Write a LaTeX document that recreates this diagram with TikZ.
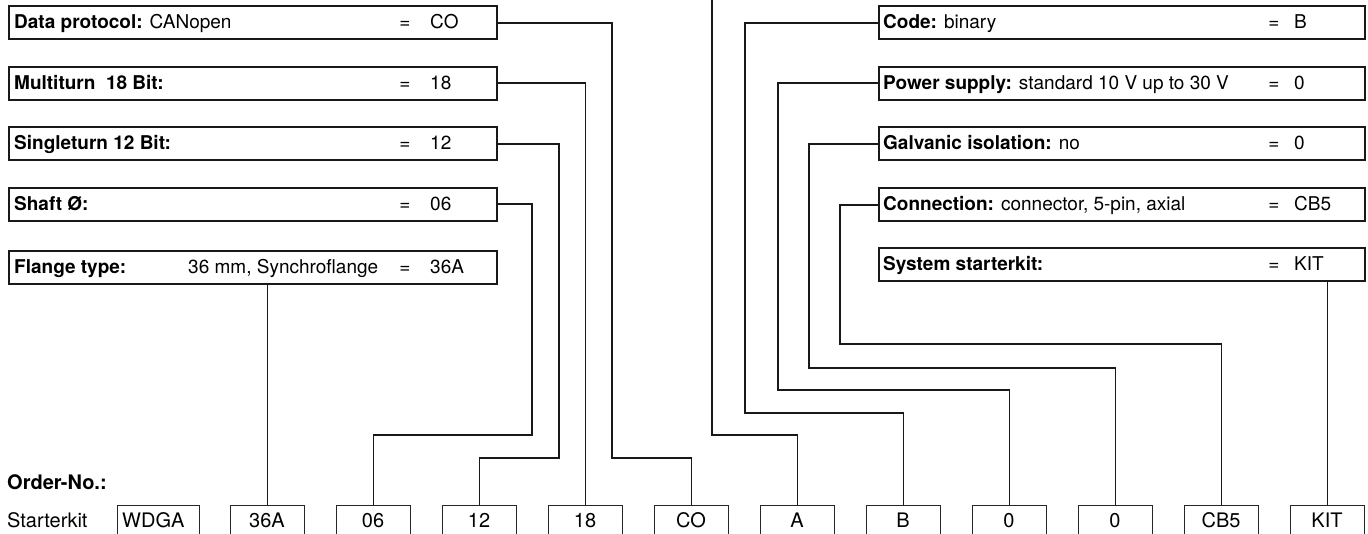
\documentclass[tikz,border=0pt]{standalone}
\usepackage{fontspec}
\setmainfont{TeX Gyre Heros}
\begin{document}
\begin{tikzpicture}[x=1pt,y=-1pt,
  topbox/.style={draw=black!90, line width=2.4pt, anchor=north west, inner sep=0pt, minimum height=33pt},
  lbox/.style={topbox, minimum width=488pt},
  rbox/.style={topbox, minimum width=486pt},
  botbox/.style={draw=black!85, line width=1pt, anchor=north west, inner sep=0pt, minimum height=40pt, minimum width=74pt},
  lbl/.style={anchor=base west, inner sep=0pt, font=\fontsize{19}{22}\selectfont},
  eqs/.style={anchor=base, inner sep=0pt, font=\fontsize{19}{22}\selectfont},
  btxt/.style={anchor=base, inner sep=0pt, font=\fontsize{20}{24}\selectfont},
  conn/.style={draw=black!90, line width=1.8pt}
]
\useasboundingbox (0,0) rectangle (1368,533);

% ---------- left boxes ----------
\node[lbox] (dp) at (8,5) {};
\node[lbox] (mt) at (8,65.5) {};
\node[lbox] (st) at (8,126) {};
\node[lbox] (sh) at (8,186.5) {};
\node[lbox] (fl) at (8,250) {};

\node[lbl] (dpT) at (14,28.5) {\bfseries Data protocol: \mdseries CANopen};
\node[eqs] (dpE) at (405,28.5) {=};
\node[lbl] (dpV) at (430,28.5) {CO};

\node[lbl] (mtT) at (14,89) {\bfseries Multiturn\ \ 18 Bit:};
\node[eqs] (mtE) at (405,89) {=};
\node[lbl] (mtV) at (430,89) {18};

\node[lbl] (stT) at (14,149.5) {\bfseries Singleturn 12 Bit:};
\node[eqs] (stE) at (405,149.5) {=};
\node[lbl] (stV) at (430,149.5) {12};

\node[lbl] (shT) at (14,210) {\bfseries Shaft Ø:};
\node[eqs] (shE) at (405,210) {=};
\node[lbl] (shV) at (430,210) {06};

\node[lbl] (flT) at (14,273.5) {\bfseries Flange type:};
\node[lbl] (flD) at (188,273.5) {36 mm, Synchroflange};
\node[eqs] (flE) at (405,273.5) {=};
\node[lbl] (flV) at (430,273.5) {36A};

% ---------- right boxes ----------
\node[rbox] (code) at (878,5) {};
\node[rbox] (pw) at (878,65.5) {};
\node[rbox] (gi) at (878,126) {};
\node[rbox] (cn) at (878,187) {};
\node[rbox] (sk) at (878,247) {};

\node[lbl] (codeT) at (883,28.5) {\bfseries Code: \mdseries binary};
\node[eqs] (codeE) at (1274,28.5) {=};
\node[lbl] (codeV) at (1294,28.5) {B};

\node[lbl] (pwT) at (883,89) {\bfseries Power supply: \mdseries standard 10 V up to 30 V};
\node[eqs] (pwE) at (1274,89) {=};
\node[lbl] (pwV) at (1294,89) {0};

\node[lbl] (giT) at (883,149.5) {\bfseries Galvanic isolation: \mdseries no};
\node[eqs] (giE) at (1274,149.5) {=};
\node[lbl] (giV) at (1294,149.5) {0};

\node[lbl] (cnT) at (883,210.5) {\bfseries Connection: \mdseries connector, 5-pin, axial};
\node[eqs] (cnE) at (1274,210.5) {=};
\node[lbl] (cnV) at (1294,210.5) {CB5};

\node[lbl] (skT) at (883,270.5) {\bfseries System starterkit:};
\node[eqs] (skE) at (1274,270.5) {=};
\node[lbl] (skV) at (1294,270.5) {KIT};

% ---------- order number ----------
\node[anchor=base west, inner sep=0pt, font=\fontsize{20}{24}\selectfont\bfseries] (ord) at (7,489) {Order-No.:};
\node[anchor=base west, inner sep=0pt, font=\fontsize{20}{24}\selectfont] (sk0) at (7,527) {Starterkit};

\node[botbox, minimum width=82pt] (bW) at (117,504.5) {};
\node[anchor=base west, inner sep=0pt, font=\fontsize{20}{24}\selectfont] (tW) at (122,527) {WDGA};
\foreach \nm/\xx/\tx in {b36/230/36A, b06/336/06, b12/442/12, b18/548/18, bCO/654/CO, bA/760/A, bB/866/B, b0a/972/0, b0b/1078/0, bCB/1184/CB5, bKIT/1290/KIT}{
  \node[botbox] (\nm) at (\xx,504.5) {};
  \node[btxt] (t\nm) at (\xx+37,527) {\tx};
}

% ---------- connectors ----------
\coordinate (topin) at (712,-2);
\draw[conn] (fl.south -| b36.north) -- (b36.north);
\draw[conn] (sh.east) -| (532,435) -| (b06.north);
\draw[conn] (st.east) -| (559,458) -| (b12.north);
\draw[conn] (mt.east) -| (b18.north);
\draw[conn] (dp.east) -| (612,458) -| (bCO.north);
\draw[conn] (topin) -- (712,435) -| (bA.north);
\draw[conn] (code.west) -| (745,413) -| (bB.north);
\draw[conn] (pw.west) -| (778,390) -| (b0a.north);
\draw[conn] (gi.west) -| (809,368) -| (b0b.north);
\draw[conn] (cn.west) -| (840,344) -| (bCB.north);
\draw[conn] (sk.south -| bKIT.north) -- (bKIT.north);
\end{tikzpicture}
\end{document}
